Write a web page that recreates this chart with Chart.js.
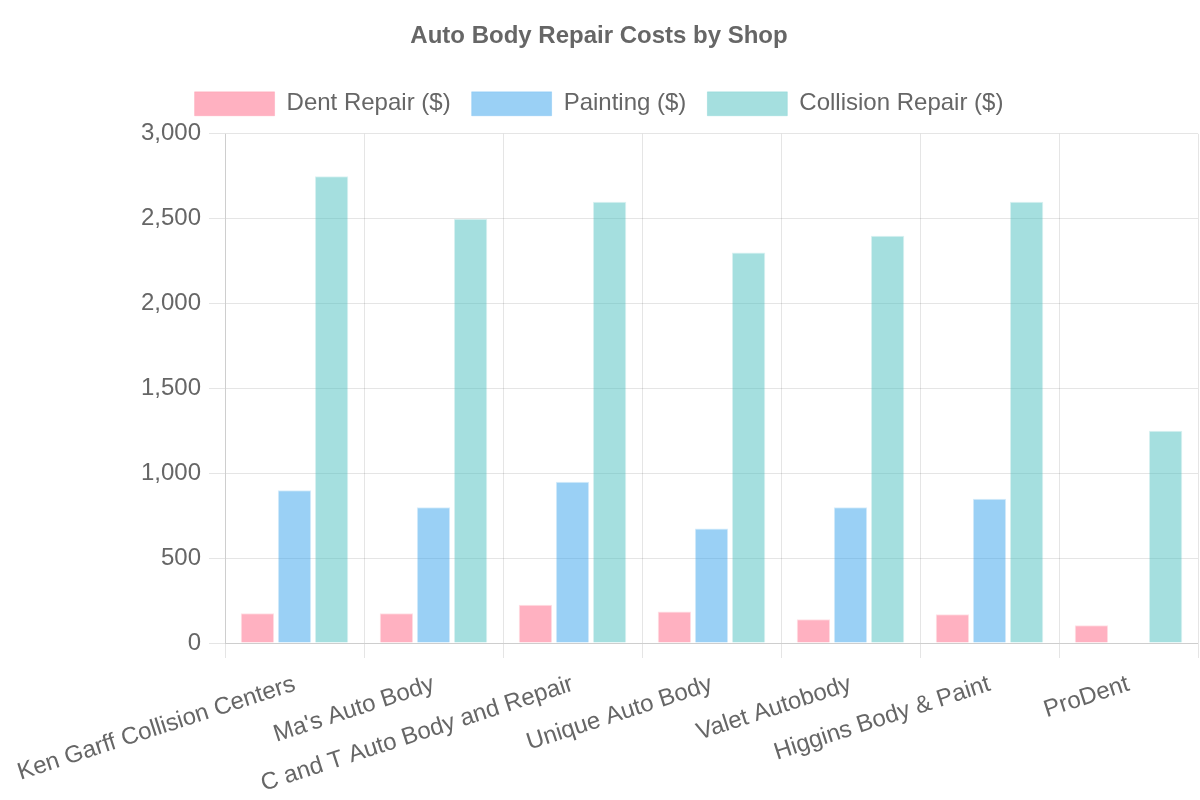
<!DOCTYPE html>
<html>
<head>
<meta charset="utf-8">
<script src="https://cdn.jsdelivr.net/npm/chart.js@4/dist/chart.umd.min.js"></script>
<style>
html,body{margin:0;padding:0;background:#fff;}
#wrap{width:1200px;height:800px;}
</style>
</head>
<body>
<div id="wrap"><canvas id="c"></canvas></div>
<script>
const categories = ["Ken Garff Collision Centers","Ma's Auto Body","C and T Auto Body and Repair","Unique Auto Body","Valet Autobody","Higgins Body & Paint","ProDent"];
const dentRepair = [175, 175, 225, 185, 140, 170, 105];
const painting = [900, 800, 950, 675, 800, 850, null];
const collisionRepair = [2750, 2500, 2600, 2300, 2400, 2600, 1250];
const seriesNames = ["Dent Repair ($)", "Painting ($)", "Collision Repair ($)"];

Chart.defaults.font.family = "'Liberation Sans', Arial, sans-serif";
Chart.defaults.color = '#666';

const legendSpacer = {
  id: 'legendSpacer',
  beforeInit(chart) {
    const origFit = chart.legend.fit;
    chart.legend.fit = function() {
      origFit.call(this);
      this.height += 8;
    };
  }
};

new Chart(document.getElementById('c'), {
  type: 'bar',
  data: {
    labels: categories,
    datasets: [
      {label: seriesNames[0], data: dentRepair, backgroundColor: 'rgba(255,99,132,0.5)', borderColor: 'rgba(255,99,132,0.2)', borderWidth: 1},
      {label: seriesNames[1], data: painting, backgroundColor: 'rgba(54,162,235,0.5)', borderColor: 'rgba(54,162,235,0.2)', borderWidth: 1},
      {label: seriesNames[2], data: collisionRepair, backgroundColor: 'rgba(75,192,192,0.5)', borderColor: 'rgba(75,192,192,0.2)', borderWidth: 1}
    ]
  },
  plugins: [legendSpacer],
  options: {
    responsive: true,
    maintainAspectRatio: false,
    animation: false,
    layout: {padding: {left: 0, right: 2, top: 12, bottom: 0}},
    plugins: {
      title: {display: true, text: 'Auto Body Repair Costs by Shop', font: {size: 24, weight: 'bold'}, color: '#666', padding: {top: 10, bottom: 20}},
      legend: {labels: {font: {size: 24}, boxWidth: 80, boxHeight: 24, padding: 21}}
    },
    scales: {
      x: {
        ticks: {font: {size: 24}, maxRotation: 18, minRotation: 18, color: '#666', padding: 12},
        grid: {color: 'rgba(0,0,0,0.1)', tickLength: 15},
        afterFit(scale) { scale.height = 157; scale.paddingLeft = 0; }
      },
      y: {
        beginAtZero: true,
        max: 3000,
        ticks: {stepSize: 500, font: {size: 24}, color: '#666', padding: 8},
        grid: {color: 'rgba(0,0,0,0.1)', tickLength: 16},
        afterFit(scale) { scale.width = 225; }
      }
    }
  }
});
</script>
</body>
</html>
